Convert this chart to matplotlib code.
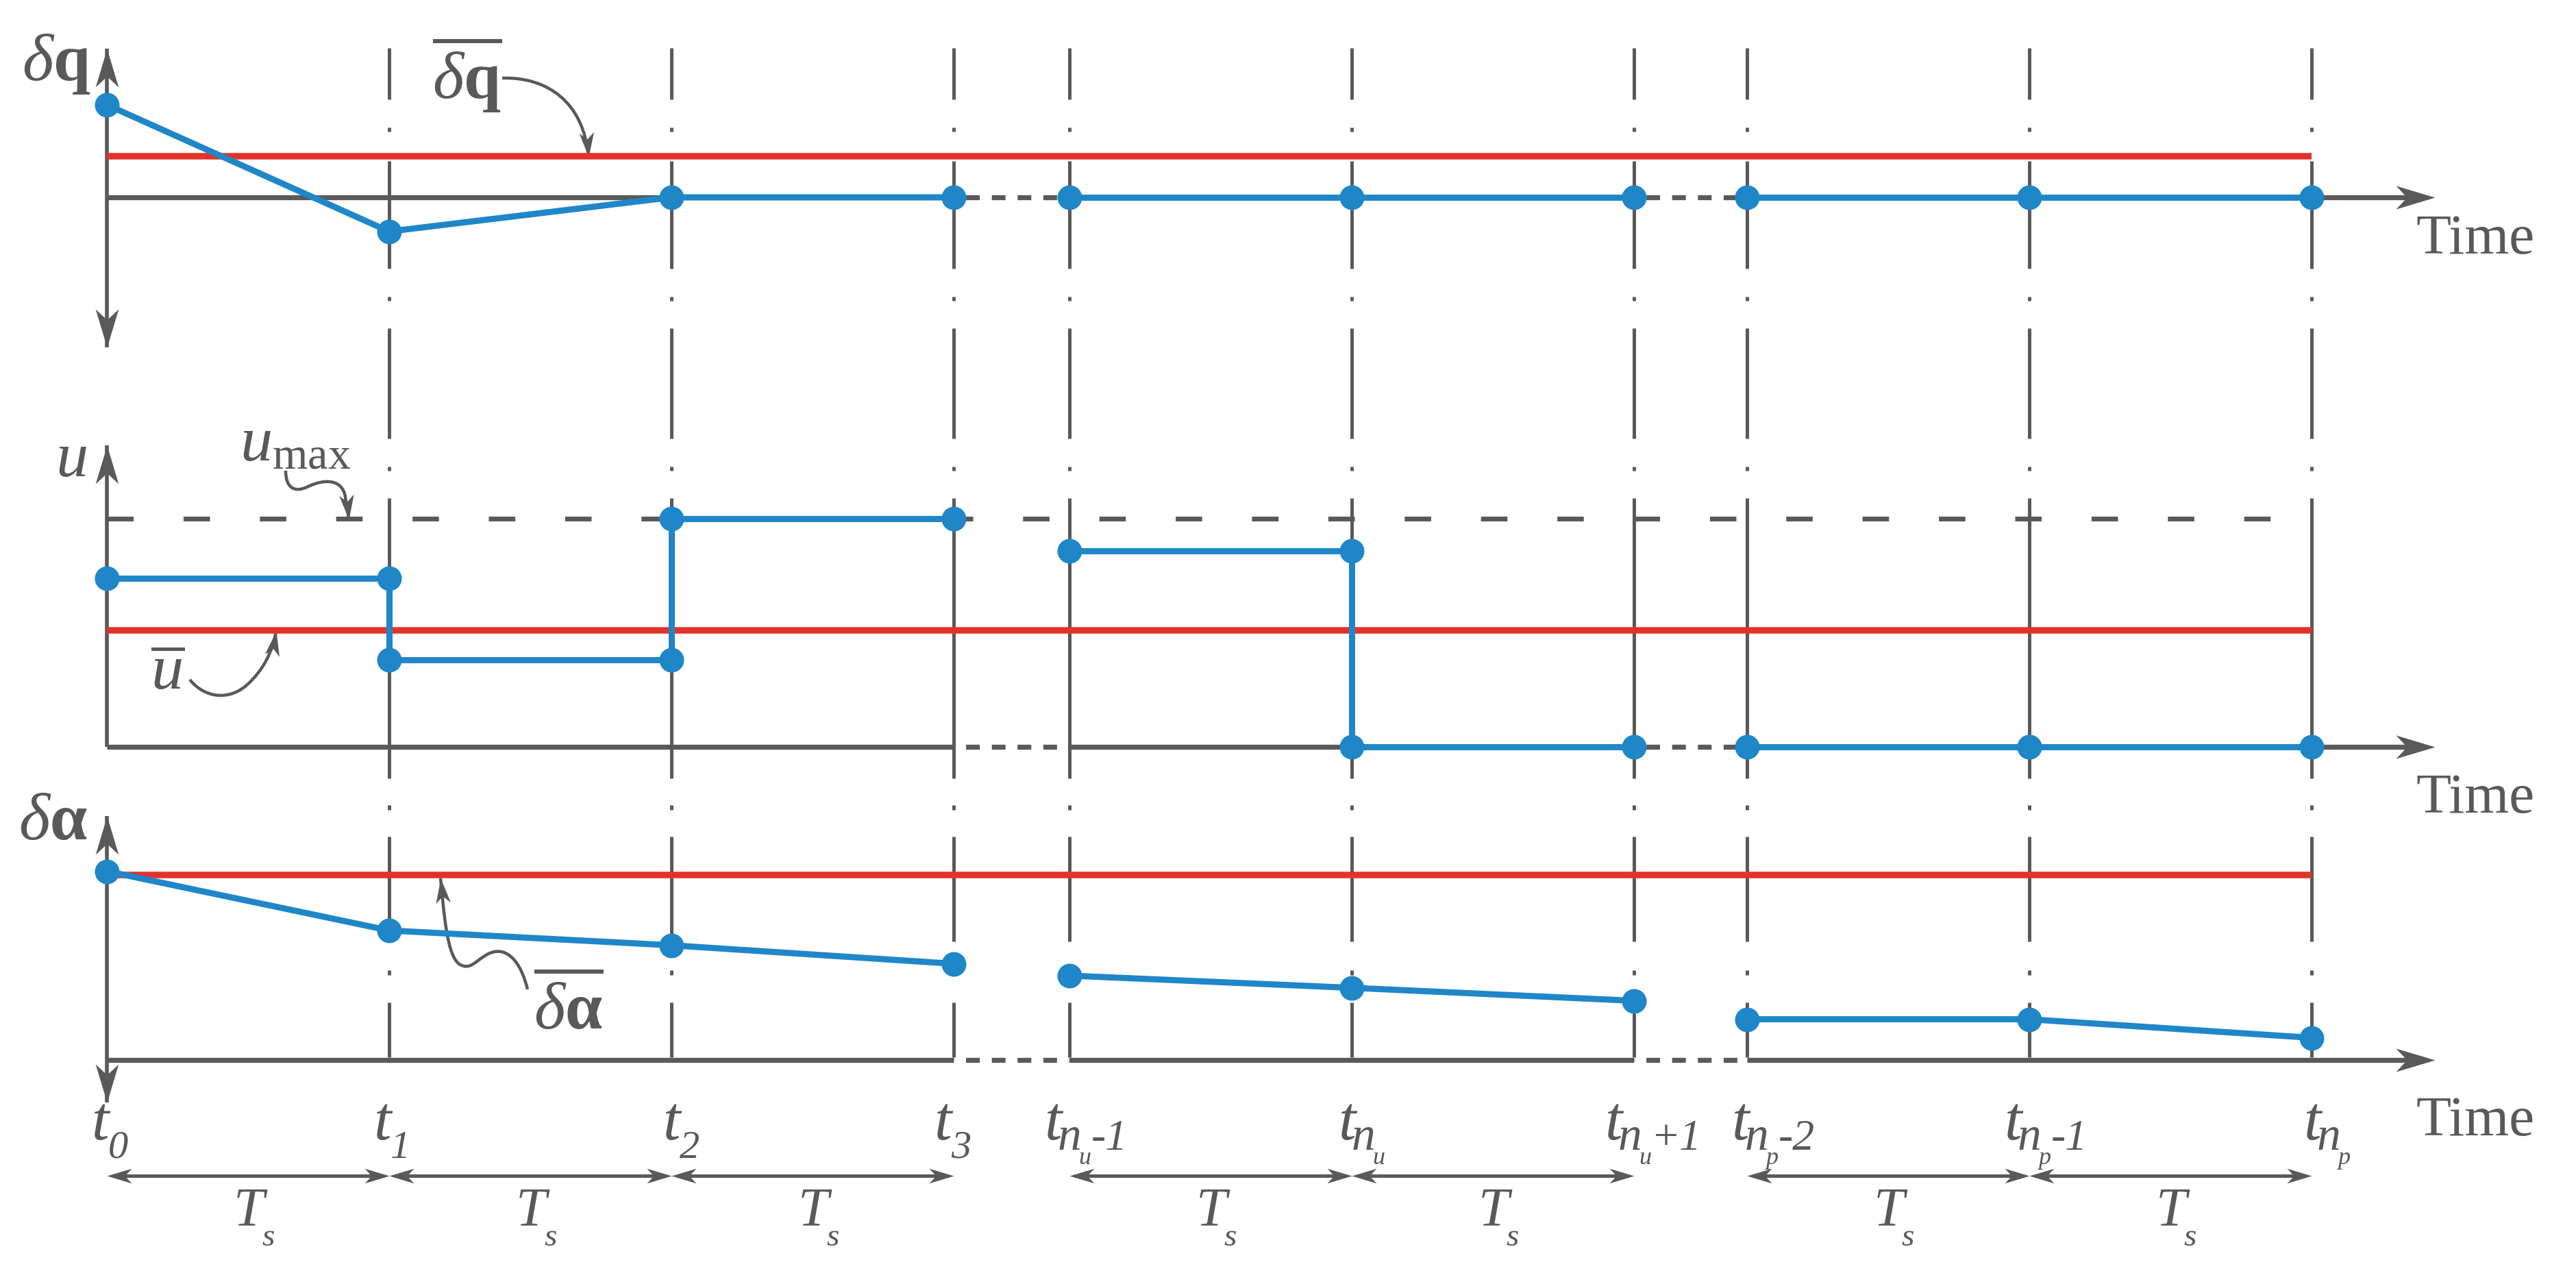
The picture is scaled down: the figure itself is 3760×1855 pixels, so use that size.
import numpy as np
import matplotlib
matplotlib.use("Agg")
import matplotlib.pyplot as plt
from matplotlib.path import Path
from matplotlib.patches import PathPatch
from matplotlib.markers import MarkerStyle
from matplotlib.transforms import Affine2D

# ------------------------------------------------------------------ data
# sampling instants, in units of Ts (the two breaks "..." are visual gaps)
time_pos = [0, 1, 2, 3, 3.41, 4.41, 5.41, 5.81, 6.81, 7.81]
# time labels: (main subscript, nested subscript, suffix)
time_subs = [('0', '', ''), ('1', '', ''), ('2', '', ''), ('3', '', ''),
             ('n', 'u', '-1'), ('n', 'u', ''), ('n', 'u', '+1'),
             ('n', 'p', '-2'), ('n', 'p', '-1'), ('n', 'p', '')]
segments = [[0, 1, 2, 3], [4, 5, 6], [7, 8, 9]]          # contiguous parts of the horizon
ts_intervals = [(0, 1), (1, 2), (2, 3), (4, 5), (5, 6), (7, 8), (8, 9)]

dq_values = [2.25, -0.83, 0, 0, 0, 0, 0, 0, 0, 0]
dq_bound = 1.0

u_steps = [0.74, 0.38, 1.0, 0.86, 0.0, 0.0, 0.0]          # one value per Ts interval
u_max = 1.0
u_bar = 0.51

da_values = [1.02, 0.70, 0.62, 0.52, 0.456, 0.39, 0.32, 0.22, 0.22, 0.12]
da_bound = 1.0

# ------------------------------------------------------------------ style
W, H, DPI = 3760, 1855, 200
PT = 72.0 / DPI                      # points per pixel
GRAY = '#595959'
BLUE = '#1f86c8'
RED = '#e2332a'
X0_PX, PX_PER_TS = 156, 412
XL = (-X0_PX / PX_PER_TS, (W - X0_PX) / PX_PER_TS)
label_dx_px = [-22, -22, -12, -28, -36, -19, -42, -22, -36, -11]

plt.rcParams['lines.scale_dashes'] = False
plt.rcParams['mathtext.fontset'] = 'custom'
plt.rcParams['mathtext.rm'] = 'Liberation Serif'
plt.rcParams['mathtext.it'] = 'Liberation Serif:italic'
plt.rcParams['mathtext.bf'] = 'Liberation Serif:bold'
plt.rcParams['font.family'] = ['Liberation Serif', 'DejaVu Serif']


def px2t(px):
    return (px - X0_PX) / PX_PER_TS


STEALTH = Path([(0, 0), (-1, 0.3), (-0.72, 0), (-1, -0.3), (0, 0)],
               [Path.MOVETO, Path.LINETO, Path.LINETO, Path.LINETO, Path.CLOSEPOLY])


def head(ax, x, y, angle, length_px, color=GRAY, z=5):
    m = MarkerStyle(STEALTH, transform=Affine2D().rotate_deg(angle))
    ax.plot([x], [y], linestyle='none', marker=m, ms=2 * length_px * PT,
            mfc=color, mec=color, mew=0, zorder=z, clip_on=False)


fig = plt.figure(figsize=(W / DPI, H / DPI), dpi=DPI)
fig.patch.set_facecolor('white')

base = fig.add_axes([0, 0, 1, 1])
base.set_xlim(XL)
base.set_ylim(H, 0)
base.axis('off')

# vertical dash-dot grid lines at every sampling instant (except t0 = y axis)
grid_px = [75, 41, 6, 43, 157, 41, 6, 40, 161, 41, 6, 40, 409, 39, 7, 39, 153, 42, 7, 40, 80, 10]
grid_dash = tuple(v * PT for v in grid_px)
for t in time_pos[1:]:
    base.plot([t, t], [70, 1547], color=GRAY, lw=5 * PT, ls=(0, grid_dash),
              solid_capstyle='butt', dash_capstyle='butt', zorder=1)


def make_panel(zero_px, ppu):
    a = fig.add_axes([0, 0, 1, 1])
    a.set_xlim(XL)
    a.set_ylim((zero_px - H) / ppu, zero_px / ppu)
    a.axis('off')
    a.patch.set_visible(False)
    return a


ARROW_END = px2t(3554)
AX_LW = 7.3 * PT


def time_axis(a):
    t = time_pos
    a.plot([t[0], t[3]], [0, 0], color=GRAY, lw=AX_LW, solid_capstyle='butt', zorder=2)
    a.plot([t[4], t[6]], [0, 0], color=GRAY, lw=AX_LW, solid_capstyle='butt', zorder=2)
    a.plot([t[7], ARROW_END - 0.05], [0, 0], color=GRAY, lw=AX_LW, solid_capstyle='butt', zorder=2)
    for i, j in [(3, 4), (6, 7)]:
        a.plot([t[i], t[j]], [0, 0], color=GRAY, lw=AX_LW, ls=(20 * PT, (20 * PT, 17.6 * PT)),
               dash_capstyle='butt', zorder=2)
    head(a, ARROW_END, 0, 0, 57)


def y_axis(a, lo, hi, down_arrow):
    a.plot([time_pos[0], time_pos[0]], [lo, hi], color=GRAY, lw=5.6 * PT, zorder=2,
           solid_capstyle='butt')
    head(a, time_pos[0], hi, 90, 56)
    if down_arrow:
        head(a, time_pos[0], lo, -90, 56)


BL_LW = 9 * PT
MS = 36 * PT
RD_LW = 9.5 * PT

# ---------------- panel 1 : delta q
p1 = make_panel(288, 60)
time_axis(p1)
y_axis(p1, -3.65, 3.62, True)
p1.plot([time_pos[0], time_pos[-1]], [dq_bound, dq_bound], color=RED, lw=RD_LW,
        solid_capstyle='butt', zorder=3)
for g in segments:
    p1.plot([time_pos[i] for i in g], [dq_values[i] for i in g], color=BLUE, lw=BL_LW,
            marker='o', ms=MS, mew=0, zorder=4, clip_on=False)

# ---------------- panel 2 : u
p2 = make_panel(1090, 333)
time_axis(p2)
y_axis(p2, 0, 1.32, False)
p2.plot([time_pos[0], time_pos[-1]], [u_max, u_max], color=GRAY, lw=7 * PT,
        ls=(0, (38.6 * PT, 72.8 * PT)), dash_capstyle='butt', zorder=3)
p2.plot([time_pos[0], time_pos[-1]], [u_bar, u_bar], color=RED, lw=RD_LW,
        solid_capstyle='butt', zorder=3)
k = 0
for g in segments:
    xs, ys = [], []
    for a_, b_ in zip(g[:-1], g[1:]):
        xs += [time_pos[a_], time_pos[b_]]
        ys += [u_steps[k], u_steps[k]]
        k += 1
    p2.plot(xs, ys, color=BLUE, lw=BL_LW, marker='o', ms=MS, mew=0, zorder=4, clip_on=False)

# ---------------- panel 3 : delta alpha
p3 = make_panel(1547, 270)
time_axis(p3)
y_axis(p3, -0.23, 1.32, True)
p3.plot([time_pos[0], time_pos[-1]], [da_bound, da_bound], color=RED, lw=RD_LW,
        solid_capstyle='butt', zorder=3)
for g in segments:
    p3.plot([time_pos[i] for i in g], [da_values[i] for i in g], color=BLUE, lw=BL_LW,
            marker='o', ms=MS, mew=0, zorder=4, clip_on=False)


# ---------------- time labels and Ts arrows
def txt(xpx, ybase, s, size, style='italic'):
    base.text(px2t(xpx), ybase, s, fontsize=size, color=GRAY, ha='left', va='baseline',
              fontstyle=style)


for t, dx, (sub, nest, suf) in zip(time_pos, label_dx_px, time_subs):
    tl = X0_PX + t * PX_PER_TS + dx
    txt(tl, 1663, 't', 33)
    if not nest:
        txt(tl + 24, 1690, sub, 21)
    else:
        txt(tl + 19, 1678, sub, 25)
        txt(tl + 49, 1699, nest, 13)
        if suf:
            sign, num = suf[0], suf[1:]
            if sign == '+':
                txt(tl + 71, 1678, '+', 23, 'normal')
                txt(tl + 108, 1678, num, 23)
            else:
                txt(tl + 68, 1678, '-' + num, 23)

TS_Y = 1716
for i, j in ts_intervals:
    a_, b_ = time_pos[i], time_pos[j]
    base.plot([a_ + 0.02, b_ - 0.02], [TS_Y, TS_Y], color=GRAY, lw=5 * PT, solid_capstyle='butt')
    head(base, a_, TS_Y, 180, 36)
    head(base, b_, TS_Y, 0, 36)
    mid = X0_PX + (a_ + b_) / 2 * PX_PER_TS
    txt(mid - 21, 1788, 'T', 29)
    txt(mid + 20, 1818, 's', 17)

for yb in (370, 1186, 1657):
    base.text(px2t(3526), yb, 'Time', fontsize=30, color=GRAY, ha='left', va='baseline')

# ---------------- axis labels
base.text(px2t(82), 94, r'$\delta\mathbf{q}$', fontsize=35, color=GRAY, ha='center', va='center')
base.text(px2t(104), 672, r'$u$', fontsize=34, color=GRAY, ha='center', va='center')
base.text(px2t(77), 1202, r'$\delta\mathbf{\alpha}$', fontsize=35, color=GRAY, ha='center', va='center')

# ---------------- annotations
base.text(px2t(682), 108, r'$\overline{\delta\mathbf{q}}$', fontsize=35, color=GRAY,
          ha='center', va='center')
base.text(px2t(431), 650, r'$u_{\max}$', fontsize=34, color=GRAY, ha='center', va='center')
base.text(px2t(245), 984, r'$\overline{u}$', fontsize=34, color=GRAY, ha='center', va='center')
base.text(px2t(830), 1474, r'$\overline{\delta\mathbf{\alpha}}$', fontsize=35, color=GRAY,
          ha='center', va='center')


def curve(pts, head_len=36):
    codes = [Path.MOVETO] + [Path.CURVE4] * (len(pts) - 1)
    verts = [(px2t(x), y) for x, y in pts]
    base.add_patch(PathPatch(Path(verts, codes), fill=False, ec=GRAY, lw=4.5 * PT,
                             capstyle='butt', zorder=2))
    (xc, yc), (xe, ye) = pts[-2], pts[-1]
    ang = np.degrees(np.arctan2(-(ye - yc), xe - xc))
    head(base, px2t(xe), ye, ang, head_len)


curve([(733, 114), (800, 112), (852, 150), (859, 229)])
curve([(417, 687), (417, 712), (430, 720), (450, 710),
       (475, 698), (500, 700), (504, 725),
       (506, 740), (508, 748), (509, 758)])
curve([(277, 992), (300, 1020), (335, 1022), (360, 1000),
       (385, 978), (398, 950), (403, 921)])
curve([(770, 1444), (762, 1410), (745, 1385), (722, 1389),
       (700, 1393), (690, 1418), (672, 1408),
       (652, 1398), (648, 1330), (643, 1282)])

fig.savefig('out.png', dpi=DPI, facecolor='white')
